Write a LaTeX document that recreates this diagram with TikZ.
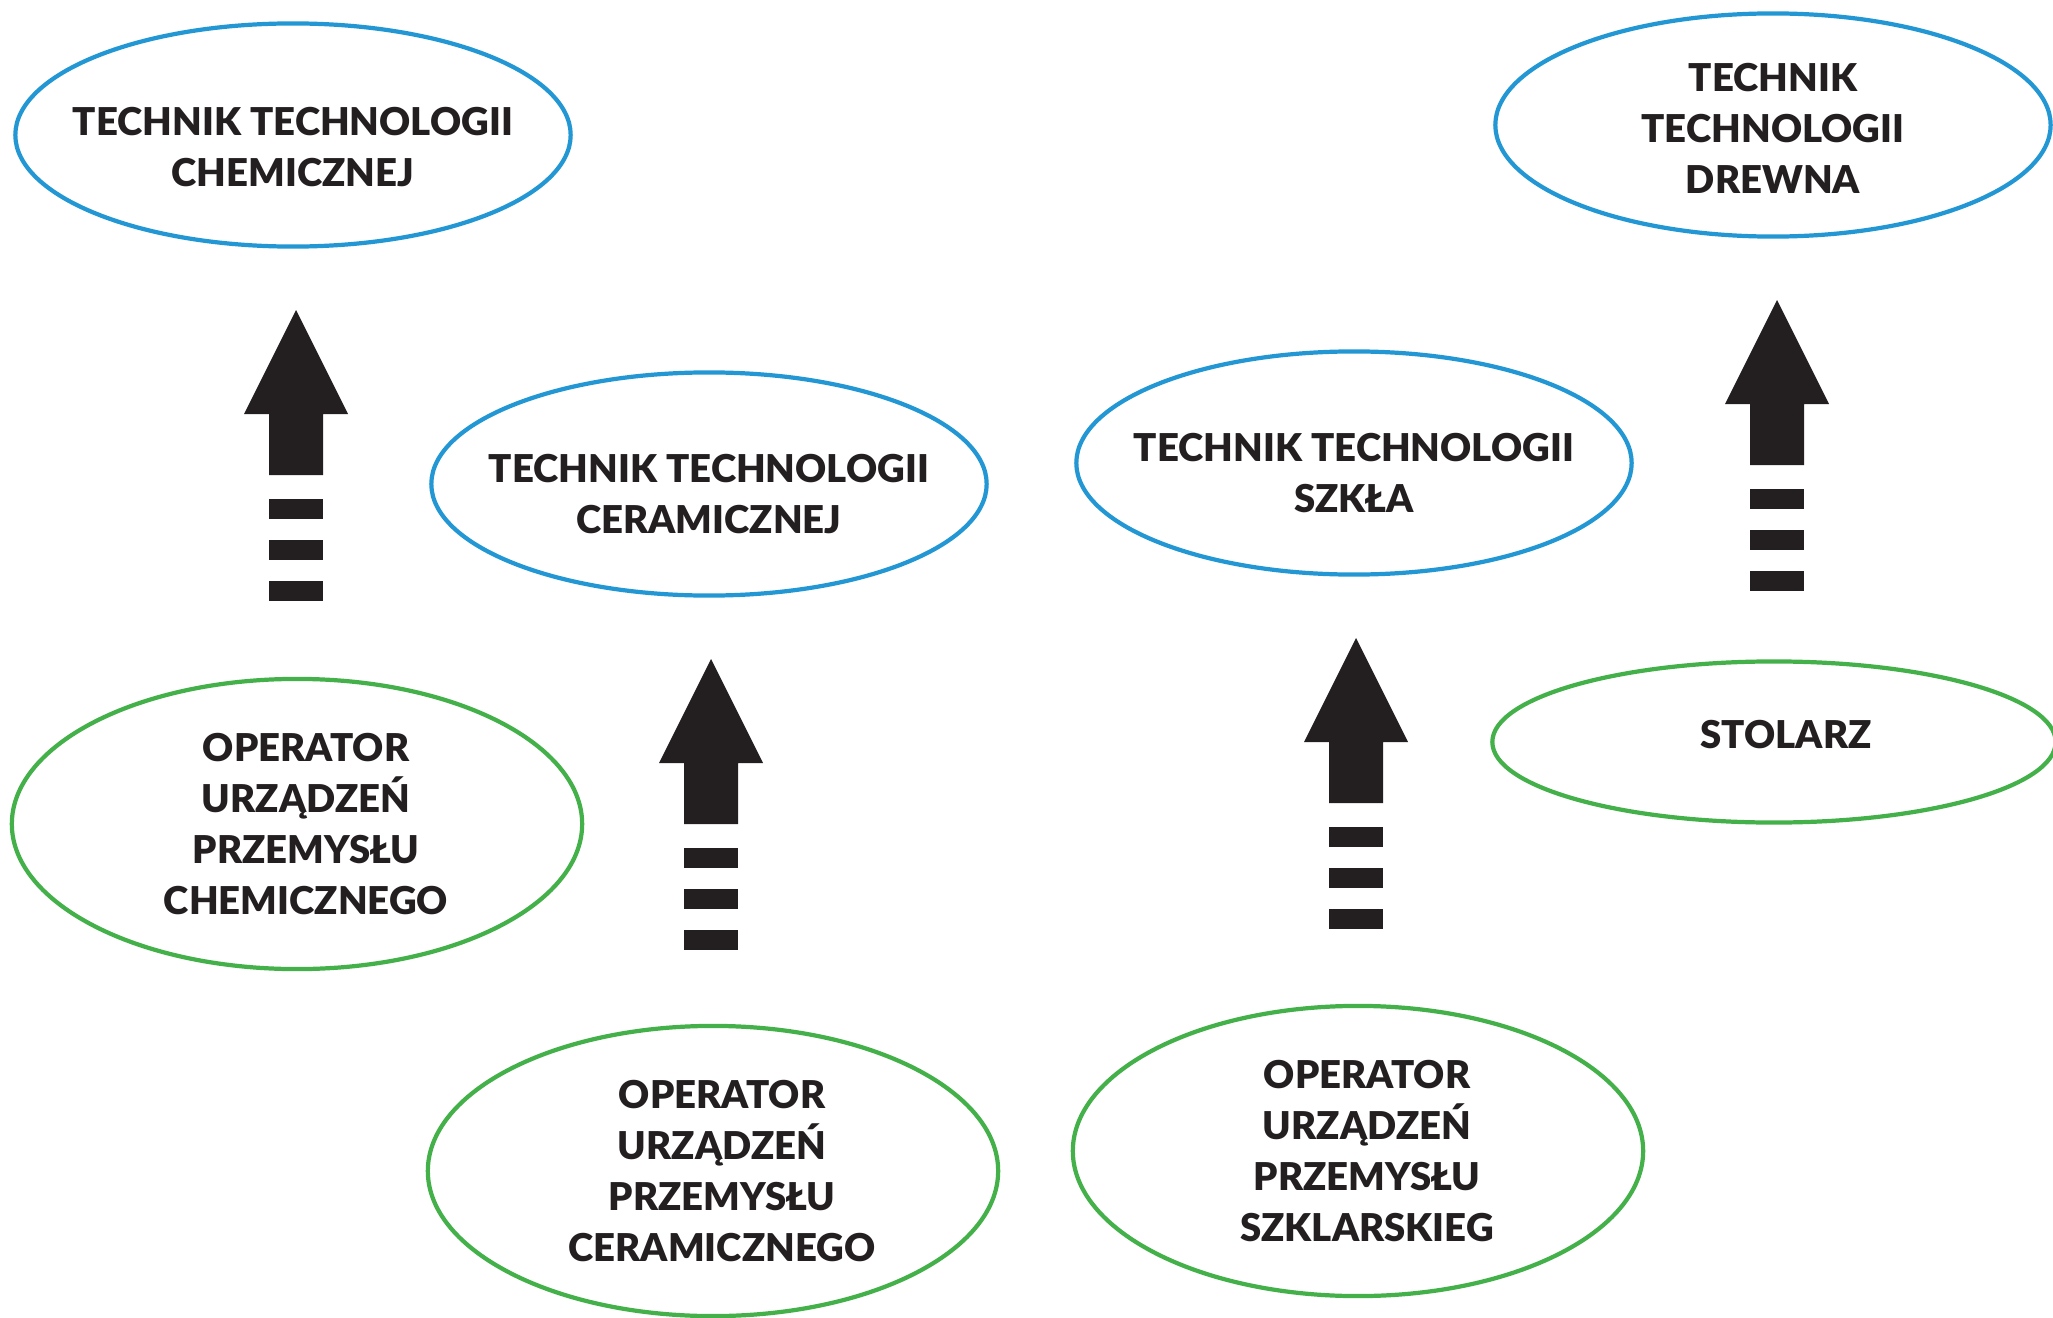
\documentclass[tikz,border=0pt]{standalone}
\usepackage{fontspec}
\setmainfont{Lato}[BoldFont={Lato Black}]
\usetikzlibrary{shapes.geometric}
\definecolor{techblue}{RGB}{35,151,211}
\definecolor{opgreen}{RGB}{67,176,73}
\definecolor{arrowblack}{RGB}{35,31,32}
\begin{document}
\begin{tikzpicture}[x=0.01cm, y=-0.01cm,
  oval/.style={ellipse, line width=1.2pt, inner sep=0pt},
  ovaltext/.style={align=center, inner sep=0pt,
    font=\fontsize{10.9}{14.5}\selectfont\bfseries, text=arrowblack},
  tech/.style={oval, draw=techblue, minimum width=5.55cm, minimum height=2.23cm},
  oper/.style={oval, draw=opgreen, minimum width=5.7cm, minimum height=2.9cm},
  blockfill/.style={fill=arrowblack}]
  \useasboundingbox (0,0) rectangle (2053,1318);
  % technicians (blue)
  \node[tech, label={[ovaltext, yshift=-0.12cm]center:{TECHNIK TECHNOLOGII\\CHEMICZNEJ}}] (techChem) at (293,135) {};
  \node[tech, label={[ovaltext, yshift=-0.03cm]center:{TECHNIK\\TECHNOLOGII\\DREWNA}}] (techDrew) at (1773,125) {};
  \node[tech, label={[ovaltext, yshift=-0.1cm]center:{TECHNIK TECHNOLOGII\\CERAMICZNEJ}}] (techCer) at (709,484) {};
  \node[tech, label={[ovaltext, yshift=-0.1cm]center:{TECHNIK TECHNOLOGII\\SZKŁA}}] (techSzk) at (1354,463) {};
  % operators (green)
  \node[oper, label={[ovaltext, xshift=0.09cm]center:{OPERATOR\\URZĄDZEŃ\\PRZEMYSŁU\\CHEMICZNEGO}}] (opChem) at (297,824) {};
  \node[oper, minimum width=5.63cm, minimum height=1.61cm,
    label={[ovaltext, xshift=0.12cm, yshift=0.07cm]center:{STOLARZ}}] (stolarz) at (1774,742) {};
  \node[oper, label={[ovaltext, xshift=0.09cm]center:{OPERATOR\\URZĄDZEŃ\\PRZEMYSŁU\\CERAMICZNEGO}}] (opCer) at (713,1171) {};
  \node[oper, label={[ovaltext, xshift=0.09cm]center:{OPERATOR\\URZĄDZEŃ\\PRZEMYSŁU\\SZKLARSKIEG}}] (opSzk) at (1358,1151) {};
  % block arrows with dashed tails
  \foreach \x/\y in {296/310, 711/659, 1356/638, 1777/300} {
    \fill[blockfill] (\x,\y) -- ++(52,104) -- ++(-25,0) -- ++(0,61) -- ++(-54,0) -- ++(0,-61) -- ++(-25,0) -- cycle;
    \foreach \d in {189,230,271}
      \fill[blockfill] (\x-27,\y+\d) rectangle ++(54,20);
  }
\end{tikzpicture}
\end{document}
